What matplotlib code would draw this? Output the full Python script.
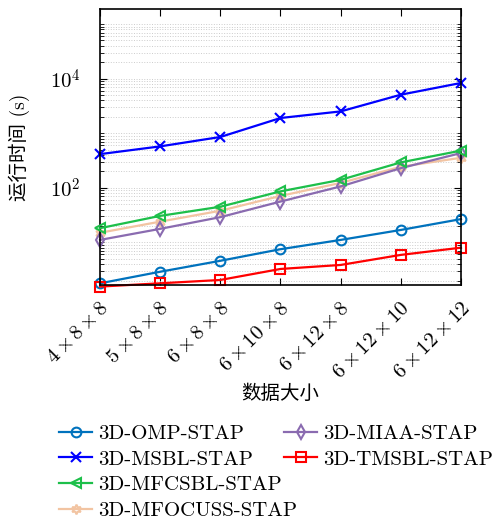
import matplotlib
matplotlib.use('Agg')
import matplotlib.pyplot as plt
import numpy as np
from matplotlib.ticker import FixedLocator, NullFormatter

plt.rcParams['mathtext.fontset'] = 'cm'
plt.rcParams['font.family'] = ['cmr10', 'Noto Sans CJK SC', 'DejaVu Sans']
plt.rcParams['axes.unicode_minus'] = False

sizes = [r'$4\times8\times8$', r'$5\times8\times8$', r'$6\times8\times8$',
         r'$6\times10\times8$', r'$6\times12\times8$', r'$6\times12\times10$',
         r'$6\times12\times12$']

omp = [1.78, 2.9, 4.6, 7.5, 11.1, 16.9, 26.7]
msbl = [414, 574, 853, 1900, 2510, 5080, 8330]
mfcsbl = [18.2, 30.6, 45, 86, 140, 292, 480]
mfocuss = [15, 24, 38, 71, 123, 243, 355]
miaa = [11.1, 17.7, 29, 56, 106, 229, 433]
tmsbl = [1.55, 1.78, 2.05, 3.26, 3.86, 5.9, 8.0]


def main():
    fig = plt.figure(figsize=(4.99, 5.20), dpi=100)
    ax = fig.add_axes([0.2004, 0.452, 0.7234, 0.531])
    x = np.arange(len(sizes))

    kw = dict(lw=1.6, ms=7, mfc='none', mew=1.5, clip_on=False)
    series = [
        ('3D-OMP-STAP', omp, '#0072BD', 'o'),
        ('3D-MSBL-STAP', msbl, '#0000FF', 'x'),
        ('3D-MFCSBL-STAP', mfcsbl, '#1DBF4A', '<'),
        ('3D-MFOCUSS-STAP', mfocuss, '#F2C4A2', (6, 1, 0)),
        ('3D-MIAA-STAP', miaa, '#8A6BB0', 'd'),
        ('3D-TMSBL-STAP', tmsbl, '#FF0000', 's'),
    ]
    lines = []
    for name, vals, c, m in series:
        l, = ax.plot(x, vals, color=c, marker=m, label=name, **kw)
        lines.append(l)
    lines[2].set_zorder(3)

    ax.set_yscale('log')
    ax.set_ylim(1.66, 1.9e5)
    ax.set_xlim(0, 6)
    ax.yaxis.set_major_locator(FixedLocator([1, 1e2, 1e4]))
    ax.set_yticklabels([r'$10^{0}$', r'$10^{2}$', r'$10^{4}$'])
    minors = [k * 10.0 ** p for p in range(0, 6) for k in range(1, 10)]
    minors = [v for v in minors if v not in (1, 1e2, 1e4)]
    ax.yaxis.set_minor_locator(FixedLocator(minors))
    ax.yaxis.set_minor_formatter(NullFormatter())
    ax.grid(True, which='both', axis='y', ls=':', color='#cccccc', lw=0.7)

    ax.set_xticks(x)
    ax.set_xticklabels(sizes, rotation=45, ha='right', rotation_mode='anchor', fontsize=15)
    ax.tick_params(axis='x', pad=10)
    ax.tick_params(axis='y', labelsize=15, pad=14)
    ax.tick_params(which='both', direction='in', top=True, right=True)
    ax.tick_params(which='major', length=5)
    ax.tick_params(which='minor', length=3)
    for s in ax.spines.values():
        s.set_linewidth(1.2)

    ax.set_ylabel('运行时间 (s)', fontsize=14, family=['cmr10', 'Noto Sans CJK SC'], labelpad=14)
    ax.set_xlabel('数据大小', fontsize=14, family=['Noto Sans CJK SC'], labelpad=0)

    opts = dict(loc='upper left', frameon=False, fontsize=15, handlelength=1.6,
                handletextpad=0.3, labelspacing=0.34, borderpad=0, borderaxespad=0)
    fig.legend(lines[:4], [s[0] for s in series[:4]],
               bbox_to_anchor=(0.118, 0.184), **opts)
    fig.legend(lines[4:], [s[0] for s in series[4:]],
               bbox_to_anchor=(0.569, 0.184), **opts)

    fig.savefig('out.png', dpi=100)


if __name__ == '__main__':
    main()
